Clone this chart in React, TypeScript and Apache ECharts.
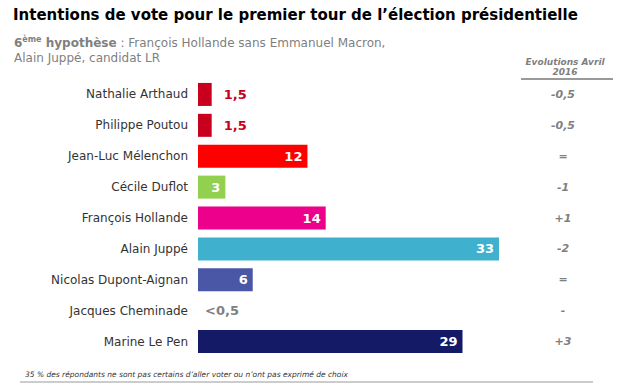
import React, { useEffect, useRef } from "react";
import * as echarts from "echarts";

const candidates = [
  "Nathalie Arthaud",
  "Philippe Poutou",
  "Jean-Luc Mélenchon",
  "Cécile Duflot",
  "François Hollande",
  "Alain Juppé",
  "Nicolas Dupont-Aignan",
  "Jacques Cheminade",
  "Marine Le Pen",
];
const values = [1.5, 1.5, 12, 3, 14, 33, 6, 0, 29];
const valueLabels = ["1,5", "1,5", "12", "3", "14", "33", "6", "<0,5", "29"];
const barColors = ["#c8001e", "#c8001e", "#ff0000", "#92d050", "#ec008c", "#40b0cf", "#4a56a6", "#ffffff", "#141a66"];
const evolutions = ["-0,5", "-0,5", "=", "-1", "+1", "-2", "=", "-", "+3"];

const FONT = "DejaVu Sans";

export default function App() {
  const ref = useRef<HTMLDivElement>(null);
  useEffect(() => {
    if (!ref.current) return;
    const chart = echarts.init(ref.current, null, { renderer: "svg" });
    const data = values.map((v, i) => {
      const outside = v < 2;
      return {
        value: v,
        itemStyle: { color: barColors[i] },
        label: {
          show: true,
          position: outside ? "right" : "insideRight",
          distance: outside ? (v === 0 ? 7 : 12) : 5,
          formatter: valueLabels[i],
          color: v === 0 ? "#808080" : outside ? "#c8001e" : "#ffffff",
          fontFamily: FONT,
          fontWeight: "bold",
          fontSize: 13,
        },
      };
    });
    chart.setOption({
      animation: false,
      backgroundColor: "#ffffff",
      title: [
        {
          text: "Intentions de vote pour le premier tour de l’élection présidentielle",
          left: 13,
          top: 7,
          padding: 0,
          textStyle: { fontFamily: FONT, fontWeight: "bold", fontSize: 15, color: "#000000" },
        },
        {
          text: "{b|6}{sup|ème}{b| hypothèse} : François Hollande sans Emmanuel Macron,\nAlain Juppé, candidat LR",
          left: 14,
          top: 35,
          padding: 0,
          textStyle: {
            fontFamily: FONT,
            fontSize: 12,
            fontWeight: "normal",
            color: "#7f7f7f",
            lineHeight: 15,
            rich: {
              b: { fontFamily: FONT, fontSize: 12, fontWeight: "bold", color: "#7f7f7f", lineHeight: 15 },
              sup: { fontFamily: FONT, fontSize: 8, fontWeight: "bold", color: "#7f7f7f", verticalAlign: "top", lineHeight: 15, padding: [0, 0, 4, 0] },
            },
          },
        },
        {
          text: "Evolutions Avril\n2016",
          left: 565,
          textAlign: "center",
          top: 57,
          padding: 0,
          textStyle: { fontFamily: FONT, fontSize: 9, fontWeight: "bold", fontStyle: "italic", color: "#7f7f7f", lineHeight: 10, align: "center" },
        },
        {
          text: "35 % des répondants ne sont pas certains d’aller voter ou n’ont pas exprimé de choix",
          left: 25,
          top: 370,
          padding: 0,
          textStyle: { fontFamily: FONT, fontSize: 7.5, fontWeight: "normal", fontStyle: "italic", color: "#333333" },
        },
      ],
      graphic: [
        { type: "line", shape: { x1: 521, y1: 79, x2: 613, y2: 79 }, style: { stroke: "#999999", lineWidth: 2 } },
        { type: "line", shape: { x1: 20, y1: 382, x2: 593, y2: 382 }, style: { stroke: "#999999", lineWidth: 1 } },
      ],
      grid: { left: 198, right: 122, top: 79, bottom: 30, containLabel: false },
      xAxis: { type: "value", min: 0, max: 33, show: false },
      yAxis: [
        {
          type: "category",
          data: candidates,
          inverse: true,
          axisLine: { show: false },
          axisTick: { show: false },
          axisLabel: { margin: 10, fontFamily: FONT, fontSize: 12, color: "#333333" },
        },
        {
          type: "category",
          data: evolutions,
          inverse: true,
          position: "right",
          axisLine: { show: false },
          axisTick: { show: false },
          axisLabel: { margin: 64, align: "center", fontFamily: FONT, fontSize: 11, fontStyle: "italic", fontWeight: "bold", color: "#7f7f7f" },
        },
      ],
      series: [
        {
          type: "bar",
          data,
          barWidth: 23,
          yAxisIndex: 0,
        },
      ],
    });
    return () => chart.dispose();
  }, []);
  return <div ref={ref} style={{ position: "fixed", left: 0, top: 0, width: 621, height: 387 }} />;
}
